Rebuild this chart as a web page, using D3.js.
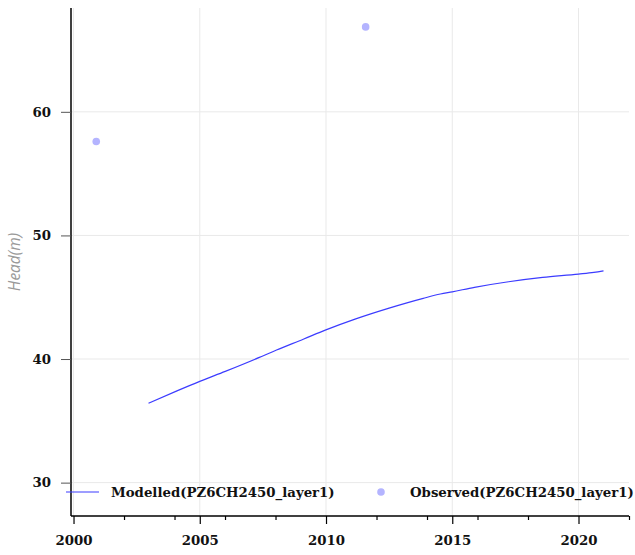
<!DOCTYPE html>
<html>
<head>
<meta charset="utf-8">
<script src="https://cdn.jsdelivr.net/npm/d3@7"></script>
<style>
  html, body { margin: 0; padding: 0; background: #fff; }
  svg { display: block; }
</style>
</head>
<body>
<svg id="chart" width="635" height="555"></svg>
<script>
// ---- data ----
const modelledYears = [2002.97, 2004.12, 2005.0, 2006.01, 2007.36, 2008.04, 2009.12, 2009.97, 2011.15,
  2012.5, 2013.85, 2014.53, 2015.0, 2015.88, 2017.23, 2018.58, 2020.0, 2020.61, 2020.99];
const modelledHeads = [36.42, 37.44, 38.19, 39.0, 40.13, 40.73, 41.62, 42.34, 43.23,
  44.12, 44.91, 45.26, 45.44, 45.8, 46.25, 46.6, 46.87, 47.01, 47.14];
const observedYears = [2000.9, 2011.57];
const observedHeads = [57.6, 66.87];
const yTicks = [30, 40, 50, 60];
const xLabelTicks = [2000, 2005, 2010, 2015, 2020];
const xMinorTicks = [2002, 2004, 2006, 2008, 2012, 2014, 2016, 2018, 2022];
const seriesNames = ["Modelled(PZ6CH2450_layer1)", "Observed(PZ6CH2450_layer1)"];
const yTitle = "Head(m)";

(function () {
// ---- layout ----
const svg = d3.select("#chart");
const pl = 71, pr = 629, pt = 8, pb = 516;
const x = d3.scaleLinear().domain([1999.9, 2022.0]).range([pl, pr]);
const y = d3.scaleLinear().domain([27.3, 68.4]).range([pb, pt]);
const tickFont = "'DejaVu Serif', serif";
const lineColor = "#3c3cff";
const dotColor = "#b4b4ff";
const fs = 13.3;

// gridlines
svg.append("g").selectAll("line").data(yTicks).join("line")
  .attr("x1", pl).attr("x2", pr)
  .attr("y1", d => y(d)).attr("y2", d => y(d))
  .attr("stroke", "#e9e9e9").attr("stroke-width", 1);
svg.append("g").selectAll("line").data(xLabelTicks).join("line")
  .attr("x1", d => x(d)).attr("x2", d => x(d))
  .attr("y1", pt).attr("y2", pb)
  .attr("stroke", "#e9e9e9").attr("stroke-width", 1);

// y axis
const yAxis = d3.axisLeft(y).tickValues(yTicks).tickSize(10).tickPadding(10).tickFormat(d3.format("d"));
const gy = svg.append("g").attr("transform", `translate(${pl},0)`).call(yAxis);
gy.select(".domain").attr("d", `M0,${pt}V${pb}`).attr("stroke", "#000").attr("stroke-width", 1.5);
gy.selectAll(".tick line").attr("stroke", "#555");
gy.selectAll(".tick text").attr("font-family", tickFont).attr("font-weight", "bold")
  .attr("font-size", fs).attr("fill", "#111");

// x axis (labelled ticks)
const xAxis = d3.axisBottom(x).tickValues(xLabelTicks).tickSize(8).tickPadding(12).tickFormat(d3.format("d"));
const gx = svg.append("g").attr("transform", `translate(0,${pb})`).call(xAxis);
gx.select(".domain").attr("d", `M${pl},0H${pr}`).attr("stroke", "#000").attr("stroke-width", 1.5);
gx.selectAll(".tick line").attr("stroke", "#000").attr("stroke-width", 1.2);
gx.selectAll(".tick text").attr("font-family", tickFont).attr("font-weight", "bold")
  .attr("font-size", fs).attr("fill", "#111");
// minor ticks
const xMinor = d3.axisBottom(x).tickValues(xMinorTicks).tickSize(4).tickFormat("");
const gxm = svg.append("g").attr("transform", `translate(0,${pb})`).call(xMinor);
gxm.select(".domain").remove();
gxm.selectAll(".tick line").attr("stroke", "#000").attr("stroke-width", 1.2);

// y title
svg.append("text")
  .attr("transform", `translate(20,${(pt + pb) / 2}) rotate(-90)`)
  .attr("text-anchor", "middle")
  .attr("font-family", "'Open Sans', sans-serif").attr("font-style", "italic")
  .attr("font-size", 15.5).attr("fill", "#999")
  .text(yTitle);

// modelled line
const modelled = modelledYears.map((t, i) => ({ t, v: modelledHeads[i] }));
const line = d3.line().x(d => x(d.t)).y(d => y(d.v)).curve(d3.curveMonotoneX);
svg.append("path").datum(modelled)
  .attr("d", line).attr("fill", "none").attr("stroke", lineColor).attr("stroke-width", 1.2);

// observed points
const observed = observedYears.map((t, i) => ({ t, v: observedHeads[i] }));
svg.append("g").selectAll("circle").data(observed).join("circle")
  .attr("cx", d => x(d.t)).attr("cy", d => y(d.v)).attr("r", 3.8).attr("fill", dotColor);

// legend
const legY = 492;
const leg = svg.append("g");
leg.append("line").attr("x1", 66).attr("x2", 99).attr("y1", legY).attr("y2", legY)
  .attr("stroke", lineColor).attr("stroke-width", 1.2);
leg.append("text").attr("x", 111).attr("y", legY).attr("dy", "0.35em")
  .attr("font-family", tickFont).attr("font-weight", "bold").attr("font-size", fs).attr("fill", "#111")
  .text(seriesNames[0]);
leg.append("circle").attr("cx", 381).attr("cy", legY).attr("r", 3.8).attr("fill", dotColor);
leg.append("text").attr("x", 410).attr("y", legY).attr("dy", "0.35em")
  .attr("font-family", tickFont).attr("font-weight", "bold").attr("font-size", fs).attr("fill", "#111")
  .text(seriesNames[1]);
})();
</script>
</body>
</html>
